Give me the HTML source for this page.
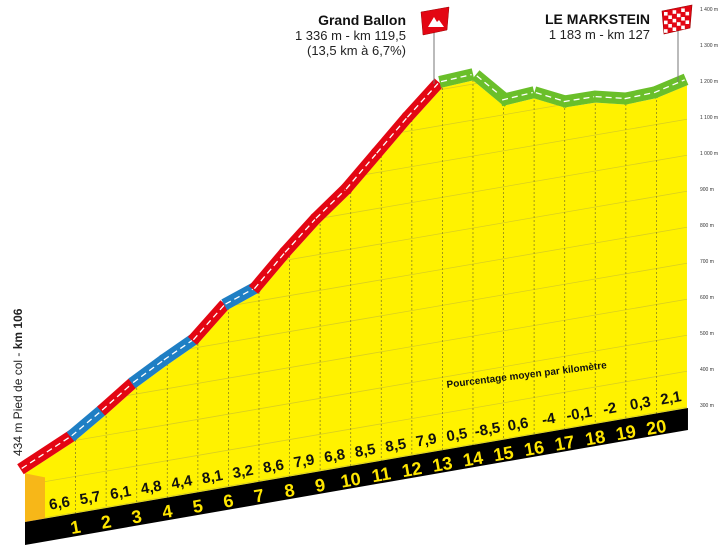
<!DOCTYPE html>
<html><head><meta charset="utf-8"><style>
html,body{margin:0;padding:0;background:#fff;}
svg{display:block;}
text{font-family:"Liberation Sans",sans-serif;}
.n{font-family:"Liberation Sans Narrow","Liberation Sans",sans-serif;font-weight:bold;}
</style></head><body>
<svg id="s" width="728" height="549" viewBox="0 0 728 549" xmlns="http://www.w3.org/2000/svg">
<defs><clipPath id="cp"><polygon id="cpp" points=""/></clipPath></defs>
<g id="g"></g>
<line x1="434" y1="20" x2="434" y2="84" stroke="#777" stroke-width="1"/>
<polygon points="421,12 449,7 447,30 423,35" fill="#e30613" stroke="#900" stroke-width="0.5"/>
<polygon points="428,27 434,17 437,22 439,20 444,27" fill="#fff"/>
<line x1="678" y1="20" x2="678" y2="82" stroke="#777" stroke-width="1"/>
<g id="chk"></g>
<text x="406" y="25" text-anchor="end" font-size="14" font-weight="bold" fill="#111">Grand Ballon</text>
<text x="406" y="40" text-anchor="end" font-size="13" fill="#222">1 336 m - km 119,5</text>
<text x="406" y="55" text-anchor="end" font-size="13" fill="#222">(13,5 km à 6,7%)</text>
<text x="650" y="24" text-anchor="end" font-size="14" font-weight="bold" fill="#111">LE MARKSTEIN</text>
<text x="650" y="39" text-anchor="end" font-size="13" fill="#222">1 183 m - km 127</text>
<text transform="translate(22,456) rotate(-90)" font-size="12" fill="#222">434 m Pied de col - <tspan font-weight="bold">km 106</tspan></text>
<text class="n" transform="translate(527,378) rotate(-7)" font-size="10" text-anchor="middle" fill="#111">Pourcentage moyen par kilomètre</text>
</svg>
<script>
var NS="http://www.w3.org/2000/svg",g=document.getElementById('g'),s=document.getElementById('s');
function el(t,a,p){var e=document.createElementNS(NS,t);for(var k in a)e.setAttribute(k,a[k]);(p||g).appendChild(e);return e;}
function Y(x,e){return 405-0.36*(e-300)+0.172*(700-x);}
function B(x){return 522-0.172*(x-25);}
var P=[6.6,5.7,6.1,4.8,4.4,8.1,3.2,8.6,7.9,6.8,8.5,8.5,7.9,0.5,-8.5,0.6,-4,-0.1,-2,0.3,2.1];
var x0=45,w=30.57,E=[434];for(var i=0;i<P.length;i++)E.push(E[i]+P[i]*10);
var pts=[];for(i=0;i<=21;i++){var x=x0+w*i;pts.push([x,Y(x,E[i])]);}
pts[0]=[25,pts[0][1]+4];
var xe=x0+w*21;
var poly=pts.map(function(p){return p[0]+","+p[1]}).join(" ")+" "+xe+","+B(xe)+" "+x0+","+B(x0);
el('polygon',{points:poly,fill:"#fff200"});
document.getElementById('cpp').setAttribute('points',poly);
var cg=el('g',{'clip-path':'url(#cp)'});
for(var e=300;e<=1400;e+=100)el('line',{x1:x0,y1:Y(x0,e),x2:xe,y2:Y(xe,e),stroke:"#d9cf20","stroke-width":0.8},cg);
for(i=1;i<21;i++){x=x0+w*i;el('line',{x1:x,y1:0,x2:x,y2:549,stroke:"#8a8420","stroke-width":0.8,"stroke-dasharray":"2,2"},cg);}
el('polygon',{points:"25,"+pts[0][1]+" "+x0+","+(pts[0][1]+4)+" "+x0+","+B(x0)+" 25,"+B(25),fill:"#f7b718"});
var T=12;
for(i=0;i<21;i++){var a=pts[i],b=pts[i+1],p=P[i];
 var c=p>6?"#e30613":(p>=3?"#1f7fc4":"#6abf2a");
 var dx=b[0]-a[0],dy=b[1]-a[1],L=Math.sqrt(dx*dx+dy*dy),nx=dy/L*T,ny=-dx/L*T;
 var ex=dx/L*1.5,ey=dy/L*1.5;
 el('polygon',{points:(a[0]-ex)+","+(a[1]-ey)+" "+(b[0]+ex)+","+(b[1]+ey)+" "+(b[0]+ex+nx)+","+(b[1]+ey+ny)+" "+(a[0]-ex+nx)+","+(a[1]-ey+ny),fill:c});
 el('line',{x1:a[0]+nx/2,y1:a[1]+ny/2,x2:b[0]+nx/2,y2:b[1]+ny/2,stroke:"#fff","stroke-width":1.3,"stroke-dasharray":"6,4"});
}
el('polygon',{points:"25,"+B(25)+" "+(xe+1)+","+B(xe+1)+" "+(xe+1)+","+(B(xe+1)+22)+" 25,"+(B(25)+23),fill:"#000"});
for(i=0;i<21;i++){x=x0+w*(i+0.5);var t=el('text',{class:"n",'font-size':15,'text-anchor':'middle',fill:"#111",transform:"translate("+x+","+(B(x)-8)+") rotate(-10)"});t.textContent=String(P[i]).replace('.',',');}
for(i=1;i<=20;i++){x=x0+w*i;var t=el('text',{class:"n",'font-size':18,'text-anchor':'middle',fill:"#ffe600",transform:"translate("+(x+1)+","+(B(x)+20)+") rotate(-10)"});t.textContent=i;}
for(e=300;e<=1400;e+=100){var t=el('text',{x:700,y:Y(700,e)+2,'font-size':5,fill:"#333"});t.textContent=(e>=1000?"1 "+String(e).slice(1):e)+" m";}
var ch=document.getElementById('chk');
el('polygon',{points:"662,11 692,5 690,28 664,34",fill:"#e30613",stroke:"#900","stroke-width":0.6},ch);
for(var r=0;r<5;r++)for(var q=0;q<6;q++)if((r+q)%2==0)el('rect',{x:664+q*4.3,y:12+r*4.3-q*0.9,width:3.6,height:3.6,fill:"#fff"},ch);
</script>
</body></html>
